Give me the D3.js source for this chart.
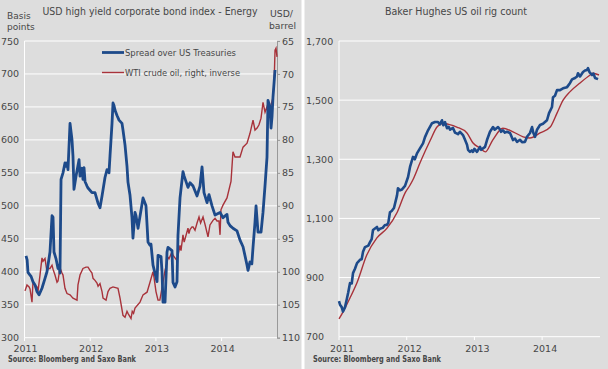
<!DOCTYPE html>
<html><head><meta charset="utf-8">
<script src="https://cdn.jsdelivr.net/npm/d3@7"></script>
<style>body{margin:0;background:#fff}svg{display:block}text{font-family:"DejaVu Sans",Verdana,sans-serif;fill:#474747}</style>
</head><body><svg id="c" width="608" height="369"></svg>
<script>
// ---- Left panel data ----
const leftYTicks = [300,350,400,450,500,550,600,650,700,750];
const rightYTicks = [65,70,75,80,85,90,95,100,105,110];
const yearTicks = [2011,2012,2013,2014];
const spreadDates = [2011.023,2011.04,2011.053,2011.084,2011.10,2011.129,2011.16,2011.19,2011.221,2011.266,2011.312,2011.342,2011.388,2011.419,2011.434,2011.449,2011.479,2011.51,2011.525,2011.54,2011.556,2011.586,2011.616,2011.632,2011.647,2011.662,2011.693,2011.723,2011.738,2011.753,2011.784,2011.83,2011.845,2011.875,2011.89,2011.906,2011.921,2011.951,2011.967,2012.027,2012.073,2012.119,2012.149,2012.18,2012.225,2012.256,2012.286,2012.301,2012.332,2012.347,2012.362,2012.378,2012.408,2012.439,2012.484,2012.499,2012.53,2012.56,2012.575,2012.606,2012.636,2012.651,2012.682,2012.697,2012.728,2012.743,2012.804,2012.849,2012.88,2012.91,2012.925,2012.956,2013.017,2013.032,2013.078,2013.093,2013.108,2013.139,2013.169,2013.184,2013.245,2013.26,2013.291,2013.321,2013.336,2013.367,2013.412,2013.43,2013.488,2013.519,2013.565,2013.626,2013.671,2013.702,2013.732,2013.778,2013.808,2013.854,2013.90,2013.976,2014.021,2014.082,2014.097,2014.128,2014.173,2014.234,2014.28,2014.326,2014.387,2014.402,2014.432,2014.46,2014.478,2014.508,2014.524,2014.554,2014.60,2014.63,2014.661,2014.691,2014.706,2014.737,2014.752,2014.767,2014.782,2014.813,2014.828];
const spreadValues = [424,418,399,395,393,385,380,370,365,375,390,400,430,485,483,430,420,405,410,398,540,550,565,560,565,555,625,600,575,525,545,570,545,557,540,558,537,530,527,520,520,504,497,515,543,555,550,575,625,656,652,645,637,630,625,615,592,560,536,516,482,451,490,485,466,475,512,500,445,440,442,410,385,425,423,400,354,354,430,437,432,384,377,385,455,512,552,545,528,535,530,515,530,559,520,505,517,500,486,490,482,487,475,470,466,462,448,438,410,402,415,412,437,475,500,460,460,490,531,574,660,650,618,635,665,706];
const wtiDates = [2011.008,2011.038,2011.07,2011.084,2011.114,2011.129,2011.16,2011.19,2011.205,2011.236,2011.266,2011.282,2011.312,2011.342,2011.358,2011.388,2011.419,2011.434,2011.464,2011.495,2011.51,2011.54,2011.571,2011.586,2011.616,2011.647,2011.693,2011.738,2011.799,2011.814,2011.845,2011.89,2011.936,2011.967,2011.997,2012.027,2012.043,2012.073,2012.103,2012.12,2012.149,2012.18,2012.195,2012.241,2012.271,2012.301,2012.347,2012.423,2012.454,2012.499,2012.53,2012.56,2012.575,2012.621,2012.64,2012.66,2012.682,2012.758,2012.804,2012.865,2012.91,2012.956,2012.971,2013.001,2013.032,2013.06,2013.108,2013.139,2013.169,2013.184,2013.2,2013.245,2013.26,2013.321,2013.367,2013.382,2013.412,2013.43,2013.488,2013.503,2013.519,2013.549,2013.565,2013.595,2013.626,2013.656,2013.68,2013.717,2013.747,2013.793,2013.823,2013.869,2013.90,2013.93,2013.96,2013.976,2013.99,2014.021,2014.082,2014.128,2014.143,2014.173,2014.204,2014.24,2014.28,2014.326,2014.356,2014.387,2014.432,2014.478,2014.508,2014.54,2014.569,2014.6,2014.615,2014.63,2014.661,2014.69,2014.706,2014.752,2014.782,2014.80,2014.813,2014.828,2014.843];
const wtiValues = [102.9,102,102.3,102.6,104.6,101.6,102,102.3,103,100.5,97.9,98.4,98,100,99.5,99.5,99,99.6,100.5,101.6,101.4,99.4,100.2,100.5,102.5,103.3,103.5,104,104.3,102,100.5,99.5,99.3,99.3,99.8,100.2,101,101.3,101.7,102.2,101.8,103,104,104.3,103,102.5,102.3,102.5,104,106.6,106.9,106,106.3,107.1,106,106.3,105.5,104.6,103.5,103.1,101.6,100,100.8,103,104.3,104.3,101.6,99.8,98.6,97.8,98,97,97.5,98.3,96,96.8,94.4,95.5,93.4,94.2,93.6,93.2,93.2,93.7,92.6,91.7,92.6,91.7,92.8,94.7,92.9,92.2,91.9,92.3,92.3,94.4,90.6,89.9,88.8,86.9,86.3,81.8,82.6,82.6,82.6,81.1,80.8,80.5,79,77,78.5,78.2,77.7,76.7,75.5,74.3,75.8,75,75.8,74.7,73.6,71,66.4,66.1,67.4];
// ---- Right panel data ----
const rigYTicks = [700,900,1100,1300,1500,1700];
const rigDates = [2011.0,2011.015,2011.04,2011.059,2011.089,2011.118,2011.137,2011.162,2011.188,2011.207,2011.236,2011.266,2011.310,2011.335,2011.355,2011.384,2011.433,2011.458,2011.483,2011.502,2011.561,2011.58,2011.606,2011.645,2011.679,2011.705,2011.728,2011.753,2011.778,2011.812,2011.857,2011.871,2011.9,2011.931,2011.975,2012.02,2012.049,2012.093,2012.12,2012.152,2012.196,2012.241,2012.27,2012.315,2012.374,2012.418,2012.462,2012.49,2012.521,2012.54,2012.566,2012.595,2012.62,2012.64,2012.684,2012.714,2012.758,2012.787,2012.831,2012.861,2012.891,2012.906,2012.935,2012.96,2012.979,2013.0,2013.038,2013.083,2013.1,2013.157,2013.186,2013.23,2013.275,2013.30,2013.349,2013.38,2013.393,2013.422,2013.45,2013.482,2013.526,2013.57,2013.6,2013.629,2013.674,2013.703,2013.747,2013.777,2013.821,2013.851,2013.87,2013.895,2013.925,2013.969,2014.013,2014.072,2014.102,2014.146,2014.161,2014.19,2014.220,2014.264,2014.309,2014.368,2014.413,2014.442,2014.486,2014.516,2014.530,2014.56,2014.604,2014.634,2014.663,2014.678,2014.7,2014.737,2014.76,2014.781,2014.826];
const rigValues = [820,808,800,785,800,830,850,881,880,915,930,949,960,962,987,1003,1008,1020,1030,1061,1071,1060,1065,1068,1078,1078,1085,1121,1125,1135,1178,1202,1195,1198,1210,1240,1274,1308,1300,1320,1337,1354,1375,1398,1422,1426,1426,1418,1432,1415,1426,1405,1410,1400,1406,1390,1385,1393,1382,1366,1349,1332,1325,1330,1325,1335,1325,1342,1332,1342,1365,1393,1409,1400,1409,1400,1393,1398,1390,1393,1389,1365,1370,1359,1366,1358,1359,1376,1389,1409,1390,1376,1400,1416,1420,1432,1456,1477,1510,1515,1534,1534,1540,1544,1558,1570,1575,1580,1591,1580,1595,1600,1602,1608,1595,1585,1590,1575,1571];
const rigAvgDates = [2011.0,2011.06,2011.16,2011.27,2011.41,2011.56,2011.71,2011.86,2011.98,2012.05,2012.09,2012.2,2012.35,2012.45,2012.54,2012.62,2012.74,2012.89,2012.98,2013.08,2013.16,2013.27,2013.42,2013.57,2013.72,2013.82,2013.97,2014.12,2014.22,2014.31,2014.41,2014.56,2014.71,2014.75,2014.84];
const rigAvgValues = [760,784,830,885,976,1034,1067,1121,1188,1213,1230,1290,1365,1410,1422,1418,1409,1389,1355,1338,1325,1365,1405,1393,1376,1372,1389,1409,1456,1500,1528,1558,1585,1591,1585];

const BLUE = "#1d4a8a", RED = "#a8323a", BG = "#dddddd", TXT = "#474747";
const svg = d3.select("#c");
svg.append("rect").attr("x",0).attr("y",0).attr("width",301.5).attr("height",369).attr("fill",BG);
svg.append("rect").attr("x",304.5).attr("y",0).attr("width",303.5).attr("height",369).attr("fill",BG);

// ===== Left panel =====
const x1 = d3.scaleLinear().domain([2011, 2014.843]).range([24.5, 277]);
const y1 = d3.scaleLinear().domain([300, 750]).range([337.7, 41]);
const y1r = d3.scaleLinear().domain([65, 110]).range([41, 337.7]);
const L = svg.append("g");
L.append("g").selectAll("line").data(leftYTicks).join("line")
  .attr("x1",24.5).attr("x2",277).attr("y1",d=>y1(d)).attr("y2",d=>y1(d))
  .attr("stroke","#fff").attr("stroke-width",1);
L.append("line").attr("x1",24.5).attr("x2",24.5).attr("y1",41).attr("y2",337.7).attr("stroke","#fff");
L.append("g").selectAll("line").data(yearTicks).join("line")
  .attr("x1",d=>x1(d)).attr("x2",d=>x1(d)).attr("y1",337.7).attr("y2",341).attr("stroke","#fff");
L.append("g").selectAll("text").data(leftYTicks).join("text")
  .attr("x",1).attr("y",d=>y1(d)+3.5).attr("font-size",9.5).text(d=>d);
L.append("g").selectAll("text").data(yearTicks).join("text")
  .attr("x",d=>x1(d)+1).attr("y",352).attr("text-anchor","middle").attr("font-size",9.5).text(d=>d);
// right axis
const ra = L.append("g").attr("transform","translate(277,0)")
  .call(d3.axisRight(y1r).tickValues(rightYTicks).tickSize(3).tickPadding(2));
ra.select(".domain").attr("stroke","#999");
ra.selectAll(".tick line").attr("stroke","#999");
ra.selectAll(".tick text").attr("font-size",9.5).attr("fill",TXT).attr("font-family","DejaVu Sans");
// lines
L.append("path").datum(d3.range(wtiDates.length))
  .attr("d", d3.line().x(i=>x1(wtiDates[i])).y(i=>y1r(wtiValues[i])))
  .attr("fill","none").attr("stroke",RED).attr("stroke-width",1.4);
L.append("path").datum(d3.range(spreadDates.length))
  .attr("d", d3.line().x(i=>x1(spreadDates[i])).y(i=>y1(spreadValues[i])))
  .attr("fill","none").attr("stroke",BLUE).attr("stroke-width",2.8).attr("stroke-linejoin","round");
// titles
L.append("text").attr("x",150).attr("y",15).attr("text-anchor","middle").attr("font-size",10)
  .attr("textLength",215).attr("lengthAdjust","spacingAndGlyphs").text("USD high yield corporate bond index - Energy");
L.append("text").attr("x",7).attr("y",18.5).attr("font-size",9).text("Basis");
L.append("text").attr("x",7).attr("y",29.5).attr("font-size",9).text("points");
L.append("text").attr("x",270).attr("y",17).attr("font-size",9.5).attr("textLength",23).attr("lengthAdjust","spacingAndGlyphs").text("USD/");
L.append("text").attr("x",269).attr("y",28.5).attr("font-size",9.5).attr("textLength",27).attr("lengthAdjust","spacingAndGlyphs").text("barrel");
// legend
L.append("line").attr("x1",102).attr("x2",124).attr("y1",52.5).attr("y2",52.5).attr("stroke",BLUE).attr("stroke-width",2.8);
L.append("text").attr("x",125).attr("y",56).attr("font-size",9.5).attr("textLength",111).attr("lengthAdjust","spacingAndGlyphs").text("Spread over US Treasuries");
L.append("line").attr("x1",102).attr("x2",124).attr("y1",72.5).attr("y2",72.5).attr("stroke",RED).attr("stroke-width",1.4);
L.append("text").attr("x",125).attr("y",76).attr("font-size",9.5).attr("textLength",115).attr("lengthAdjust","spacingAndGlyphs").text("WTI crude oil, right, inverse");
L.append("text").attr("x",8).attr("y",362).attr("font-size",8.5).attr("font-weight","bold")
  .attr("textLength",128).attr("lengthAdjust","spacingAndGlyphs").text("Source: Bloomberg and Saxo Bank");

// ===== Right panel =====
const x2 = d3.scaleLinear().domain([2011, 2014.855]).range([339, 600]);
const y2 = d3.scaleLinear().domain([700, 1700]).range([336.7, 41]);
const R = svg.append("g");
R.append("g").selectAll("line").data(rigYTicks).join("line")
  .attr("x1",339).attr("x2",600).attr("y1",d=>y2(d)).attr("y2",d=>y2(d)).attr("stroke","#fff");
R.append("line").attr("x1",339).attr("x2",339).attr("y1",41).attr("y2",336.7).attr("stroke","#fff");
R.append("g").selectAll("line").data(yearTicks).join("line")
  .attr("x1",d=>x2(d)).attr("x2",d=>x2(d)).attr("y1",336.7).attr("y2",340).attr("stroke","#fff");
R.append("g").selectAll("text").data(rigYTicks).join("text")
  .attr("x",306).attr("y",d=>y2(d)+3.5).attr("font-size",9.5).text(d=>d3.format(",")(d));
R.append("g").selectAll("text").data(yearTicks).join("text")
  .attr("x",d=>x2(d)+3).attr("y",352).attr("text-anchor","middle").attr("font-size",9.5).text(d=>d);
R.append("path").datum(d3.range(rigAvgDates.length))
  .attr("d", d3.line().curve(d3.curveMonotoneX).x(i=>x2(rigAvgDates[i])).y(i=>y2(rigAvgValues[i])))
  .attr("fill","none").attr("stroke",RED).attr("stroke-width",1.4);
R.append("path").datum(d3.range(rigDates.length))
  .attr("d", d3.line().x(i=>x2(rigDates[i])).y(i=>y2(rigValues[i])))
  .attr("fill","none").attr("stroke",BLUE).attr("stroke-width",2.6).attr("stroke-linejoin","round");
R.append("text").attr("x",456).attr("y",15).attr("text-anchor","middle").attr("font-size",10)
  .attr("textLength",142).attr("lengthAdjust","spacingAndGlyphs").text("Baker Hughes US oil rig count");
R.append("text").attr("x",313).attr("y",362).attr("font-size",8.5).attr("font-weight","bold")
  .attr("textLength",128).attr("lengthAdjust","spacingAndGlyphs").text("Source: Bloomberg and Saxo Bank");
</script></body></html>
